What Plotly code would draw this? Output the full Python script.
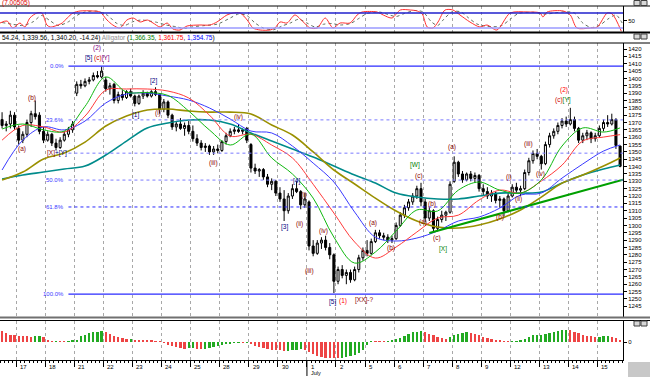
import plotly.graph_objects as go

# ---------------- data ----------------
day_labels = ["17", "18", "21", "22", "23", "24", "25", "28", "29", "30", "1",
              "2", "5", "6", "7", "8", "9", "12", "13", "14", "15"]
month_label = "July"
month_pos = 10          # index in day_labels where the month starts
first_day_bar = 4       # first bar of the first labelled day
bars_per_day = 7

open_ = [1372, 1368, 1369, 1375,
         1366, 1358, 1362, 1370, 1376, 1375, 1364,
         1358, 1362, 1356, 1353, 1358, 1362, 1365,
         1390, 1396, 1395, 1398, 1399, 1402, 1401,
         1399, 1393, 1396, 1385, 1389, 1387, 1391,
         1388, 1383, 1388, 1390, 1388, 1391, 1389,
         1379, 1384, 1375, 1367, 1369, 1366, 1368,
         1364, 1359, 1356, 1353, 1354, 1350, 1352,
         1351, 1357, 1361, 1364, 1365, 1364, 1366,
         1355, 1339, 1337, 1338, 1333, 1328, 1330,
         1322, 1318, 1310, 1320, 1325, 1323, 1314,
         1316, 1286, 1281, 1288, 1290, 1285, 1280,
         1262, 1270, 1266, 1268, 1263, 1270, 1278,
         1283, 1281, 1289, 1295, 1293, 1292, 1290,
         1291, 1300, 1307, 1312, 1316, 1320, 1325,
         1316, 1305, 1310, 1298, 1304, 1307, 1309,
         1330, 1343, 1335, 1331, 1335, 1332, 1334,
         1325, 1323, 1320, 1322, 1317, 1318, 1310,
         1320, 1326, 1324, 1325, 1336, 1344, 1349,
         1347, 1342, 1355, 1361, 1364, 1368, 1371,
         1369, 1372, 1366, 1358, 1361, 1363, 1359,
         1361, 1366, 1370, 1369, 1372, 1354.0]
high = [1377, 1371, 1378, 1377,
        1368, 1364, 1372, 1378, 1385, 1377, 1367,
        1364, 1363, 1359, 1360, 1364, 1367, 1371,
        1398, 1399, 1400, 1401, 1404, 1405, 1408,
        1401, 1397, 1397, 1391, 1392, 1392, 1393,
        1389, 1389, 1392, 1391, 1392, 1394, 1390,
        1386, 1385, 1376, 1371, 1373, 1370, 1371,
        1368, 1362, 1358, 1356, 1355, 1354, 1355,
        1358, 1363, 1366, 1367, 1369, 1366, 1367,
        1356, 1342, 1339, 1339, 1335, 1332, 1331,
        1326, 1324, 1322, 1328, 1330, 1324, 1322,
        1317, 1290, 1290, 1292, 1293, 1288, 1281,
        1272, 1273, 1270, 1270, 1272, 1280, 1285,
        1290, 1291, 1297, 1297, 1295, 1294, 1293,
        1302, 1309, 1314, 1318, 1322, 1327, 1329,
        1318, 1312, 1311, 1306, 1310, 1310, 1330,
        1347, 1344, 1337, 1336, 1337, 1336, 1335,
        1328, 1326, 1324, 1323, 1320, 1319, 1322,
        1328, 1329, 1327, 1338, 1346, 1351, 1352,
        1348, 1357, 1363, 1366, 1370, 1373, 1374,
        1380, 1374, 1367, 1363, 1365, 1364, 1363,
        1368, 1372, 1375, 1376, 1373, 1354.24]
low = [1366, 1364, 1366, 1365,
       1355, 1356, 1360, 1367, 1372, 1362, 1356,
       1357, 1354, 1351, 1352, 1357, 1360, 1363,
       1388, 1393, 1394, 1396, 1398, 1400, 1400,
       1391, 1389, 1383, 1383, 1385, 1386, 1387,
       1381, 1382, 1386, 1387, 1387, 1388, 1376,
       1377, 1373, 1365, 1364, 1365, 1361, 1362,
       1357, 1354, 1351, 1350, 1348, 1348, 1349,
       1350, 1355, 1360, 1362, 1363, 1362, 1356,
       1336, 1335, 1333, 1331, 1326, 1324, 1320,
       1316, 1303, 1308, 1318, 1322, 1311, 1312,
       1283, 1279, 1280, 1284, 1283, 1277, 1254,
       1260, 1264, 1260, 1261, 1262, 1268, 1276,
       1279, 1280, 1288, 1291, 1290, 1288, 1288,
       1290, 1299, 1305, 1310, 1314, 1318, 1313,
       1302, 1303, 1295, 1296, 1302, 1303, 1308,
       1329, 1333, 1329, 1330, 1330, 1329, 1323,
       1320, 1318, 1316, 1315, 1312, 1306, 1309,
       1319, 1322, 1320, 1324, 1334, 1342, 1345,
       1338, 1341, 1353, 1359, 1362, 1366, 1367,
       1368, 1364, 1356, 1356, 1358, 1356, 1357,
       1360, 1364, 1367, 1368, 1352, 1339.56]
close = [1368, 1369, 1375, 1367,
         1358, 1362, 1370, 1376, 1374, 1364, 1358,
         1362, 1356, 1353, 1358, 1362, 1365, 1369,
         1396, 1395, 1398, 1399, 1402, 1401, 1405,
         1393, 1395, 1385, 1389, 1387, 1391, 1388,
         1383, 1388, 1390, 1388, 1391, 1389, 1379,
         1384, 1375, 1367, 1369, 1366, 1368, 1364,
         1359, 1356, 1353, 1354, 1350, 1352, 1351,
         1357, 1361, 1364, 1365, 1364, 1365, 1358,
         1339, 1337, 1338, 1333, 1328, 1330, 1322,
         1318, 1310, 1320, 1325, 1323, 1314, 1318,
         1286, 1281, 1288, 1290, 1285, 1280, 1262,
         1270, 1266, 1268, 1263, 1270, 1278, 1283,
         1281, 1289, 1295, 1293, 1292, 1290, 1291,
         1300, 1307, 1312, 1316, 1320, 1325, 1316,
         1305, 1310, 1298, 1304, 1307, 1309, 1328,
         1343, 1335, 1331, 1335, 1332, 1334, 1325,
         1323, 1320, 1322, 1317, 1318, 1310, 1320,
         1326, 1324, 1325, 1336, 1344, 1349, 1347,
         1342, 1355, 1361, 1364, 1368, 1371, 1369,
         1372, 1366, 1358, 1361, 1363, 1359, 1361,
         1366, 1370, 1369, 1372, 1354.44, 1340.20]

# moving averages every 5 bars
ma_x = [0, 5, 10, 15, 20, 25, 30, 35, 40, 45, 50, 55, 60, 65, 70, 75, 80, 85,
        90, 95, 100, 105, 110, 115, 120, 125, 130, 135, 140, 145, 149]
lips = [1365.6, 1369, 1365, 1364.2, 1381, 1401, 1390.7, 1390.4, 1388.4, 1377.8,
        1364.9, 1354.7, 1362.2, 1345.9, 1335, 1318.6, 1292, 1274.4, 1281.9, 1296.2,
        1310.5, 1309.8, 1324, 1329.5, 1324, 1322, 1330.9, 1354, 1366.3, 1363.5, 1366.35]
teeth = [1358, 1368, 1367, 1363.5, 1374.4, 1392, 1392.8, 1392.8, 1391.4, 1386.7,
         1375, 1360.8, 1362, 1354.7, 1345.9, 1328, 1308.4, 1288.7, 1277.8, 1285.3,
         1295.5, 1305, 1307, 1317.3, 1324, 1322, 1330.2, 1341, 1357.4, 1360.1, 1361.75]
jaw = [1337.7, 1358, 1367, 1365, 1371, 1383.3, 1389.4, 1390, 1388, 1385.3,
       1379.9, 1372.4, 1364.2, 1362.9, 1354, 1342.4, 1329.5, 1309.1, 1292, 1289.4,
       1291.4, 1296.2, 1303, 1305.7, 1311.8, 1320.7, 1322, 1332.2, 1341.8, 1350.6, 1354.75]
ma_olive = [1330.9, 1336.3, 1345.2, 1349.3, 1356.7, 1367.6, 1374.4, 1378.5, 1379.2, 1377.8,
            1377.1, 1377.1, 1375.8, 1368.3, 1361.5, 1350, 1337.7, 1328.2, 1318.6, 1309.8,
            1303, 1298.9, 1298.2, 1300.3, 1304.4, 1310.5, 1319.3, 1328.8, 1334.3, 1340.4, 1345.9]
ma_teal = [1331.6, 1334.3, 1336.3, 1338.4, 1340.4, 1347.9, 1357.4, 1366.3, 1369.7, 1371.7,
           1371.7, 1369, 1362.9, 1357.4, 1352, 1346.5, 1340.4, 1334.3, 1328.8, 1322,
           1319.3, 1318, 1318, 1320, 1322, 1322, 1322.7, 1328.8, 1334.3, 1338.4, 1341.1]

trend_x = [103, 149.7]
trend_y = [1294.8, 1331.1]

fib_high = 1408.4
fib_low = 1253.3
fib_ratios = [0.0, 0.236, 0.382, 0.5, 0.618, 1.0]
fib_texts = ["0.0%", "23.6%", "", "50.0%", "61.8%", "100.0%"]
fib_start_bar = 16

# top oscillator (main line and signal)
osc_x = [-0.5, 1.2, 2.6, 4.3, 5.5, 6.7, 8.4, 9.6, 10.8, 11.6, 12.8, 14.5, 15.7, 17.1,
         18.8, 21.9, 23.6, 25.3, 26.7, 28.4, 30.1, 31.6, 33.3, 35, 36.4, 38.1, 39.8,
         41.2, 42.9, 44.6, 47.7, 50.1, 51.8, 54.2, 55.7, 57.4, 59.1, 60.5, 62.2, 64.6,
         65.8, 67, 68.7, 70.6, 72.6, 74.3, 76, 77.9, 79.8, 81.5, 83.9, 85.6, 86.8, 90.4,
         91.9, 94, 96, 98.4, 100.1, 101.3, 102.5, 103.9, 105.1, 106.8, 108.7, 110.4,
         112.8, 115.2, 116.9, 119.3, 122.5, 126.6, 129.7, 130.4, 131.4, 135.3, 137,
         138.6, 141.8, 143.5, 145.9, 147.1, 149.3]
osc_k = [40, 48, 20, 40, 24, 60, 80, 80, 32, 24, 28, 40, 60, 80, 88, 88, 84, 52, 32, 20,
         52, 60, 44, 52, 40, 24, 40, 16, 12, 28, 32, 32, 44, 72, 80, 80, 52, 20, 12, 12,
         20, 44, 40, 72, 44, 20, 20, 60, 20, 40, 40, 72, 84, 84, 72, 60, 92, 92, 88, 76,
         24, 20, 44, 92, 92, 72, 44, 24, 32, 12, 80, 84, 80, 64, 84, 88, 72, 20, 20, 24,
         80, 76, 7]
sig_x = [0, 2.5, 5, 7.5, 9.5, 11.5, 13.5, 16, 18, 20, 23, 25.5, 27.5, 29.5, 31.5, 33.5,
         35.5, 37.5, 39.5, 42, 44, 46, 49, 52, 55, 57, 59, 61, 63, 65.5, 67.5, 69.5, 71.5,
         73.5, 75.5, 77.5, 79.5, 81.5, 84, 86, 88, 91, 93, 95, 97, 99.5, 101.5, 103.5,
         105, 106.5, 108.5, 110.5, 112.5, 114.5, 116.5, 118.5, 120.5, 122.5, 124.5, 128,
         131, 133, 136, 138, 140, 142, 144, 146, 148, 149.5]
sig_d = [42, 35, 30, 45, 70, 50, 30, 45, 70, 84, 87, 70, 40, 30, 45, 52, 48, 42, 32, 25,
         18, 25, 30, 36, 60, 76, 70, 40, 20, 13, 28, 40, 55, 40, 24, 35, 38, 32, 38, 58,
         78, 84, 74, 66, 78, 90, 84, 45, 30, 55, 85, 85, 60, 36, 28, 25, 30, 55, 78, 83,
         75, 80, 85, 80, 40, 22, 30, 55, 72, 40]
osc_levels = [80, 20]

# bottom histogram
ao_vals = [10.7, 9, 7.3, 7, 6.3, 5.7, 5.7, 5, 5.7, 6.3, 4.7,
           2.3, 0.5, 0.7, 0.7, 0.5, 0.7, 1.3, 2.3, 5.7, 7.3,
           9, 9.7, 10.3, 10.7, 9.7, 8.3, 6.3, 5, 4, 3,
           3.2, 2.3, 2.2, 1.7, 1.6, 1.3, 1, 0.3, -1, -2.7,
           -4.3, -5.3, -6, -6.7, -6.3, -6, -7, -7.3, -6.7, -6.3,
           -5.3, -4.3, -3, -2.3, -1.7, -1, -0.7, -0.8, -0.3, -2,
           -3.7, -5, -6.3, -7, -7.7, -7.8, -8, -9, -8.7, -8.3,
           -7.7, -7, -7.7, -10.3, -11.7, -13.7, -15.3, -15.5, -15.7, -15.9,
           -16, -15.5, -15.3, -14.3, -13, -11, -8, -3, 1, 0.7,
           0.3, 0.2, 1, 1.3, 3, 4.3, 6, 8, 9.7, 10.3,
           11, 10, 8.3, 6.7, 5, 3.7, 3, 4.7, 7, 8.3,
           9, 9.7, 9, 8, 6.7, 5, 3.7, 2.7, 2, 1.3,
           1, 0.3, 0.5, 0.7, 1.7, 3, 5, 6.7, 7, 7.3,
           8, 9, 10.3, 11, 11.7, 12, 11.7, 10.3, 8.7, 7.3,
           6, 5.7, 5.3, 5.5, 5.6, 5.8, 4.7, 4, 2.3]

header_values = ["54.24", "1,339.56", "1,340.20", "-14.24"]
alligator_values = ["1,366.35", "1,361.75", "1,354.75"]
osc_title = "(7.00505)"

MAROON, NAVY, PURPLE, RED, GREEN = "#8b0000", "#000080", "#800080", "#ff0000", "#008000"
wave_labels = [
    ("(2)", 22.9, 1420.6, PURPLE),
    ('<span style="color:#000080">[5]</span> <span style="color:#cc0000">(c)</span>'
     '<span style="color:#800080">[Y]</span>', 22.9, 1413.6, NAVY),
    ("(b)", 7.2, 1386.7, MAROON),
    ("(a)", 4.8, 1352.2, MAROON),
    ('<span style="color:#8b0000">[X]</span><span style="color:#000080">+[Y]</span>',
     13.2, 1349.3, NAVY),
    ("[1]", 32.1, 1375.1, NAVY),
    ("[2]", 36.4, 1398.2, NAVY),
    ("(i)", 37.6, 1376.5, MAROON),
    ("(iii)", 50.9, 1342.4, MAROON),
    ("(iv)", 56.9, 1373.7, MAROON),
    ("[3]", 68.2, 1298.9, NAVY),
    ("[4]", 71.1, 1330.2, NAVY),
    ("(i)", 72.8, 1320.7, MAROON),
    ("(ii)", 71.6, 1301.0, MAROON),
    ("(iii)", 74.0, 1269.0, MAROON),
    ("(iv)", 77.4, 1296.2, MAROON),
    ("[5]", 79.6, 1247.9, NAVY),
    ("(1)", 82.2, 1248.4, RED),
    ("[XX]-?", 87.3, 1249.2, MAROON),
    ("(a)", 89.4, 1301.6, MAROON),
    ("(b)", 93.8, 1284.6, MAROON),
    ("[W]", 99.6, 1341.1, GREEN),
    ("(c)", 100.4, 1333.6, MAROON),
    ("(a)", 101.5, 1302.3, MAROON),
    ("(b)", 103.7, 1314.6, MAROON),
    ("(c)", 104.9, 1291.4, MAROON),
    ("[X]", 106.3, 1284.0, GREEN),
    ("(a)", 108.5, 1353.3, MAROON),
    ("(b)", 120.1, 1305.7, MAROON),
    ("(i)", 122.2, 1332.9, MAROON),
    ("(ii)", 124.4, 1318.0, MAROON),
    ("(iii)", 126.8, 1355.4, MAROON),
    ("(iv)", 129.7, 1335.0, MAROON),
    ("(2)", 135.5, 1392.1, RED),
    ('<span style="color:#cc0000">(c)</span><span style="color:#008000">[Y]</span>',
     135.3, 1385.3, RED),
]

# ---------------- layout helpers ----------------
W, H = 650, 377
PLOT_W = 623
XR = [-0.5, 149.7]
FONT = "Liberation Sans"


def py(p):
    return 1 - p / H


def pxx(p):
    return p / PLOT_W


n = len(close)
bars = list(range(n))
day_bounds = [first_day_bar - 0.5 + bars_per_day * k for k in range(len(day_labels))]

fig = go.Figure()

# candles
fig.add_trace(go.Candlestick(
    x=bars, open=open_, high=high, low=low, close=close,
    increasing=dict(line=dict(color="black", width=1), fillcolor="white"),
    decreasing=dict(line=dict(color="black", width=1), fillcolor="black"),
    whiskerwidth=0, xaxis="x", yaxis="y", showlegend=False, hoverinfo="skip"))

for vals, col, wid in [(ma_teal, "#008b8b", 1.6), (ma_olive, "#9a9000", 1.6),
                       (jaw, "#3a3aff", 1), (teeth, "#ff3a3a", 1), (lips, "#10b810", 1)]:
    fig.add_trace(go.Scatter(x=ma_x, y=vals, mode="lines",
                             line=dict(color=col, width=wid, shape="spline", smoothing=1.0),
                             xaxis="x", yaxis="y", showlegend=False, hoverinfo="skip"))

fig.add_trace(go.Scatter(x=trend_x, y=trend_y, mode="lines",
                         line=dict(color="#00a000", width=2),
                         xaxis="x", yaxis="y", showlegend=False, hoverinfo="skip"))

# oscillator
fig.add_trace(go.Scatter(x=sig_x, y=sig_d, mode="lines",
                         line=dict(color="#607060", width=1, dash="dot", shape="spline", smoothing=0.8),
                         xaxis="x3", yaxis="y3", showlegend=False, hoverinfo="skip"))
fig.add_trace(go.Scatter(x=osc_x, y=osc_k, mode="lines",
                         line=dict(color="#ff3030", width=1, shape="spline", smoothing=0.8),
                         xaxis="x3", yaxis="y3", showlegend=False, hoverinfo="skip"))

# histogram
ao_colors = ["#ee4444"]
for k in range(1, n):
    ao_colors.append("#22aa22" if ao_vals[k] > ao_vals[k - 1] else "#ee4444")
fig.add_trace(go.Bar(x=bars, y=ao_vals, marker=dict(color=ao_colors, line=dict(width=0)),
                     width=0.55, xaxis="x2", yaxis="y2", showlegend=False, hoverinfo="skip"))

shapes = []
annotations = []

# fibonacci lines
for r, t in zip(fib_ratios, fib_texts):
    lvl = fib_high - r * (fib_high - fib_low)
    solid = r in (0.0, 1.0)
    shapes.append(dict(type="line", xref="x", yref="y", x0=fib_start_bar, x1=XR[1],
                       y0=lvl, y1=lvl,
                       line=dict(color="#2b2bff" if solid or r == 0.618 else "#7a7aff",
                                 width=1.3 if solid else 1, dash="solid" if solid else "dot")))
    if t:
        annotations.append(dict(x=fib_start_bar - 0.6, y=lvl, xref="x", yref="y", text=t,
                                showarrow=False, xanchor="right", yanchor="middle",
                                font=dict(family=FONT, size=6, color="#3a3aff")))

# oscillator levels
for lv, col in zip(osc_levels, ["#2020cc", "#9a9aff"]):
    shapes.append(dict(type="line", xref="paper", yref="y3", x0=0, x1=1, y0=lv, y1=lv,
                       line=dict(color=col, width=1.5)))

# panel separators
for yp, col, wid in [(6, "black", 1), (32.5, "black", 2), (43, "black", 1),
                     (317.5, "#707070", 2), (320.5, "black", 1)]:
    shapes.append(dict(type="line", xref="paper", yref="paper", x0=0, x1=W / PLOT_W,
                       y0=py(yp), y1=py(yp), line=dict(color=col, width=wid)))

# month tick
mb = day_bounds[month_pos]
shapes.append(dict(type="line", xref="x2", yref="paper", x0=mb, x1=mb,
                   y0=py(360), y1=py(376), line=dict(color="black", width=1)))

# grey corner box and window icons
shapes.append(dict(type="rect", xref="paper", yref="paper", x0=pxx(628), x1=pxx(650),
                   y0=py(377), y1=py(362), fillcolor="#c8c8c8", line=dict(width=0)))
for iy in [0.5, 34, 321]:
    for ix in [634, 641]:
        shapes.append(dict(type="rect", xref="paper", yref="paper", x0=pxx(ix), x1=pxx(ix + 6),
                           y0=py(iy + 5), y1=py(iy), fillcolor="#d8d8d8",
                           line=dict(color="#404040", width=1)))

# wave labels
for txt, xb, yp, col in wave_labels:
    annotations.append(dict(x=xb, y=yp, xref="x", yref="y", text=txt, showarrow=False,
                            xanchor="center", yanchor="middle",
                            font=dict(family=FONT, size=6.5, color=col)))

# day labels
for lab, b in zip(day_labels, day_bounds):
    annotations.append(dict(x=b + 0.4, y=py(366.5), xref="x2", yref="paper", text=lab,
                            showarrow=False, xanchor="left", yanchor="middle",
                            font=dict(family=FONT, size=6, color="black")))
annotations.append(dict(x=mb + 0.4, y=py(372.5), xref="x2", yref="paper", text=month_label,
                        showarrow=False, xanchor="left", yanchor="middle",
                        font=dict(family=FONT, size=5.5, color="black")))

# header text
hdr = (", ".join(header_values) + ') <span style="color:#909090">Alligator</span> ('
       + '<span style="color:#008000">' + alligator_values[0] + '</span>, '
       + '<span style="color:#ff0000">' + alligator_values[1] + '</span>, '
       + '<span style="color:#0000ff">' + alligator_values[2] + '</span>)')
annotations.append(dict(x=0, y=py(37.8), xref="paper", yref="paper", text=hdr,
                        showarrow=False, xanchor="left", yanchor="middle",
                        font=dict(family=FONT, size=6.5, color="black")))
annotations.append(dict(x=0, y=py(3), xref="paper", yref="paper", text=osc_title,
                        showarrow=False, xanchor="left", yanchor="middle",
                        font=dict(family=FONT, size=6.5, color="#dd0000")))

grid = dict(showgrid=True, gridcolor="#a8a8a8", griddash="dot", gridwidth=1,
            tickvals=day_bounds, showticklabels=False, zeroline=False, range=XR,
            rangeslider=dict(visible=False))

fig.update_layout(
    width=W, height=H, autosize=False,
    margin=dict(l=0, r=W - PLOT_W, t=0, b=0),
    paper_bgcolor="white", plot_bgcolor="white",
    hovermode=False, showlegend=False, bargap=0,
    xaxis=dict(domain=[0, 1], anchor="y", ticks="", **grid),
    xaxis2=dict(domain=[0, 1], anchor="y2", ticks="outside", ticklen=6, tickcolor="black",
                showline=True, linecolor="black", linewidth=1,
                minor=dict(ticks="outside", ticklen=2, dtick=1, tick0=0.5,
                           tickcolor="black", showgrid=False),
                **grid),
    xaxis3=dict(domain=[0, 1], anchor="y3", ticks="", **grid),
    yaxis=dict(domain=[py(317), py(43)], range=[1237.7, 1424.1], anchor="x", side="right",
               tickvals=list(range(1245, 1421, 5)), ticks="outside", ticklen=3,
               tickcolor="black", showline=True, linecolor="black", linewidth=1,
               showgrid=False, zeroline=False,
               tickfont=dict(family=FONT, size=6, color="black")),
    yaxis2=dict(domain=[py(360), py(321)], range=[-18, 21], anchor="x2", side="right",
                tickvals=[0], ticktext=["0"], ticks="outside", ticklen=3, tickcolor="black",
                showline=True, linecolor="black", linewidth=1, showgrid=False, zeroline=False,
                tickfont=dict(family=FONT, size=6, color="black")),
    yaxis3=dict(domain=[py(32), py(6)], range=[4, 108], anchor="x3", side="right",
                tickvals=[50], ticktext=["50"], ticks="outside", ticklen=3, tickcolor="black",
                showline=True, linecolor="black", linewidth=1, showgrid=False, zeroline=False,
                tickfont=dict(family=FONT, size=6, color="black")),
    shapes=shapes, annotations=annotations,
)

fig.write_html("out.html", config={"displayModeBar": False},
               post_script="document.body.style.margin='0';document.body.style.overflow='hidden';")
